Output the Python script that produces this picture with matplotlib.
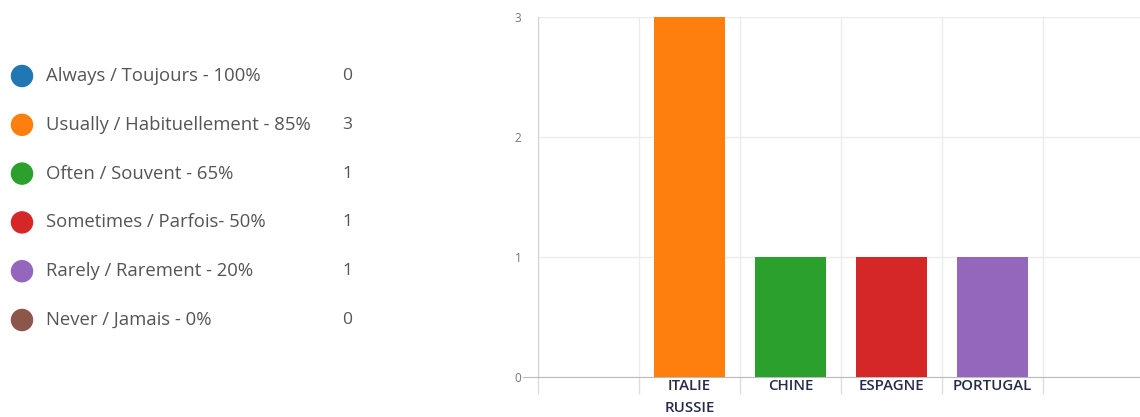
import matplotlib.pyplot as plt
from matplotlib.ticker import FixedLocator

# answer choices and counts
choices = ['Always / Toujours - 100%', 'Usually / Habituellement - 85%',
           'Often / Souvent - 65%', 'Sometimes / Parfois- 50%',
           'Rarely / Rarement - 20%', 'Never / Jamais - 0%']
counts = [0, 3, 1, 1, 1, 0]
bar_labels = ['', 'ITALIE\nRUSSIE', 'CHINE', 'ESPAGNE', 'PORTUGAL', '']
colors = ['#1f77b4', '#ff7f0e', '#2ca02c', '#d62728', '#9467bd', '#8c564b']

plt.rcParams['font.family'] = ['Open Sans', 'DejaVu Sans']

W, H = 1140, 417
fig = plt.figure(figsize=(W / 100, H / 100), dpi=100)

# legend panel on the left, in pixel coords
lax = fig.add_axes([0, 0, 500 / W, 1])
lax.set_xlim(0, 500)
lax.set_ylim(H, 0)
lax.axis('off')
row_y = [76 + 48.8 * i for i in range(len(choices))]
lax.scatter([22] * len(choices), row_y, s=230, c=colors, zorder=3)
for y, name, n in zip(row_y, choices, counts):
    lax.text(46, y, name, va='center', ha='left', fontsize=13.3, color='#555555')
    lax.text(342, y, str(n), va='center', ha='left', fontsize=12.6, color='#555555')

# bar chart
left, right = 538, W
bottom, top = 377, 17
ax = fig.add_axes([left / W, (H - bottom) / H, (right - left) / W, (bottom - top) / H])
x = list(range(len(counts)))
ax.bar(x, counts, width=0.71, color=colors, zorder=3)
ax.set_xlim(-0.5, (right - left) / 101 - 0.5)
ax.set_ylim(0, 3)

ax.set_xticks(x)
ax.set_xticklabels(bar_labels, fontsize=10.8, color='#262b4a', fontweight='semibold',
                   linespacing=1.75)
ax.tick_params(axis='x', which='major', length=0, pad=1.5)
ax.xaxis.set_minor_locator(FixedLocator([i - 0.5 for i in range(len(counts) + 1)]))
ax.tick_params(axis='x', which='minor', length=12, color='#dddddd', width=1)
ax.grid(axis='x', which='minor', color='#ececec', lw=1, zorder=0)

ax.set_yticks([0, 1, 2, 3])
ax.tick_params(axis='y', length=0, labelsize=8.5, labelcolor='#777777', pad=12)
ax.grid(axis='y', color='#ececec', lw=1, zorder=0)

for s in ['top', 'right']:
    ax.spines[s].set_visible(False)
ax.spines['left'].set_color('#d0d0d0')
ax.spines['bottom'].set_color('#bbbbbb')
ax.spines['bottom'].set_bounds(-0.65, 6)

fig.savefig('out.png', dpi=100)
